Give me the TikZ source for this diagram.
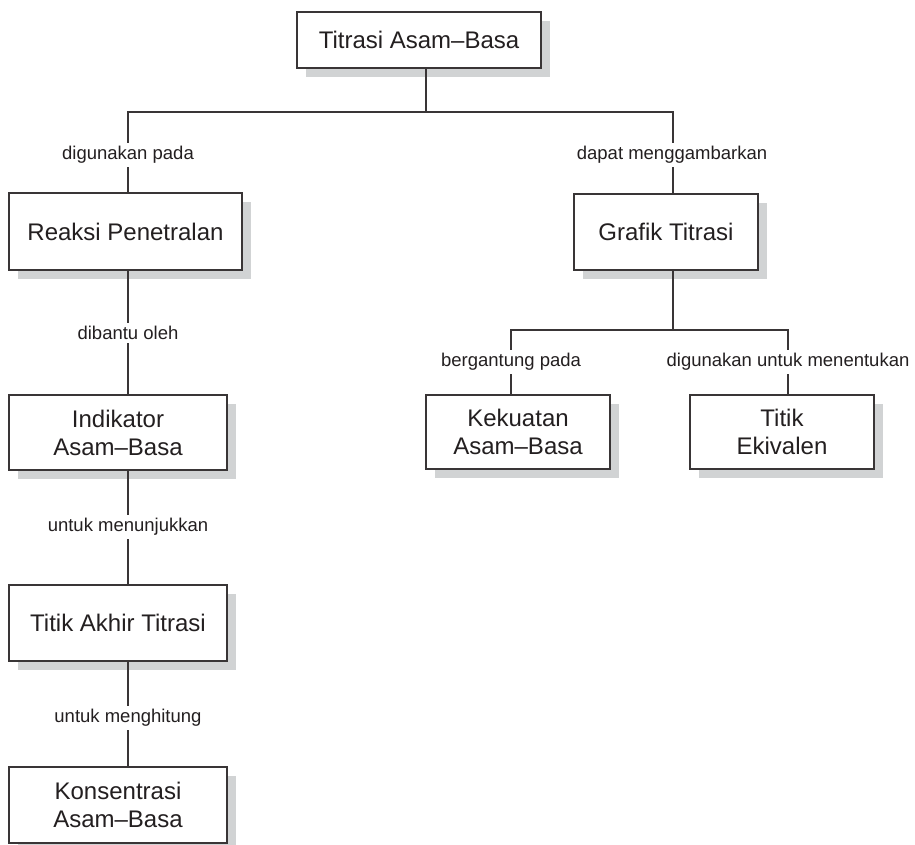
\documentclass[tikz,border=0pt]{standalone}
\usepackage{fontspec}
\setmainfont{Liberation Sans}
\usetikzlibrary{shadows}
\definecolor{shadowgray}{HTML}{D1D3D4}
\definecolor{ink}{HTML}{231F20}
\begin{document}
\begin{tikzpicture}[x=1pt,y=-1pt,
  box/.style={draw=ink!90, line width=1.4pt, fill=white, text=ink, align=center,
    inner sep=0pt, font=\fontsize{24}{28}\selectfont,
    drop shadow={shadow xshift=9pt, shadow yshift=-9pt, opacity=1, fill=shadowgray}},
  lab/.style={fill=white, text=ink, inner sep=3pt, font=\fontsize{18.5}{22}\selectfont},
  conn/.style={draw=ink!90, line width=1.4pt}]
\useasboundingbox (0,0) rectangle (915,844);
% boxes
\node[box, minimum width=244pt, minimum height=56pt] (top) at (419,40) {Titrasi Asam--Basa};
\node[box, minimum width=233pt, minimum height=77pt] (reaksi) at (125.5,231.5) {Reaksi Penetralan};
\node[box, minimum width=184pt, minimum height=76pt] (grafik) at (666,232) {Grafik Titrasi};
\node[box, minimum width=184pt, minimum height=74pt] (kekuatan) at (518,432) {Kekuatan\\Asam--Basa};
\node[box, minimum width=184pt, minimum height=74pt] (titik) at (782,432) {Titik\\Ekivalen};
\node[box, minimum width=218pt, minimum height=75pt] (indikator) at (118,432.5) {Indikator\\Asam--Basa};
\node[box, minimum width=218pt, minimum height=76pt] (akhir) at (118,623) {Titik Akhir Titrasi};
\node[box, minimum width=218pt, minimum height=76pt] (konsentrasi) at (118,805) {Konsentrasi\\Asam--Basa};
% junction coordinates
\coordinate (j0) at (426,112);
\coordinate (jl) at (128,112);
\coordinate (jr) at (673,112);
\coordinate (g0) at (673,330);
\coordinate (gl) at (511,330);
\coordinate (gr) at (788,330);
% connectors
\draw[conn] (j0 |- top.south) -- (j0);
\draw[conn] (jl |- reaksi.north) -- (jl) -- (jr) -- (jr |- grafik.north);
\draw[conn] (g0 |- grafik.south) -- (g0);
\draw[conn] (gl |- kekuatan.north) -- (gl) -- (gr) -- (gr |- titik.north);
\draw[conn] (jl |- reaksi.south) -- (jl |- indikator.north);
\draw[conn] (jl |- indikator.south) -- (jl |- akhir.north);
\draw[conn] (jl |- akhir.south) -- (jl |- konsentrasi.north);
% labels
\node[lab] (l1) at (128,155) {digunakan pada};
\node[lab] (l2) at (672,155) {dapat menggambarkan};
\node[lab] (l3) at (128,333) {dibantu oleh};
\node[lab] (l4) at (128,527) {untuk menunjukkan};
\node[lab] (l5) at (128,718) {untuk menghitung};
\node[lab] (l6) at (511,362) {bergantung pada};
\node[lab] (l7) at (788,362) {digunakan untuk menentukan};
\end{tikzpicture}
\end{document}
